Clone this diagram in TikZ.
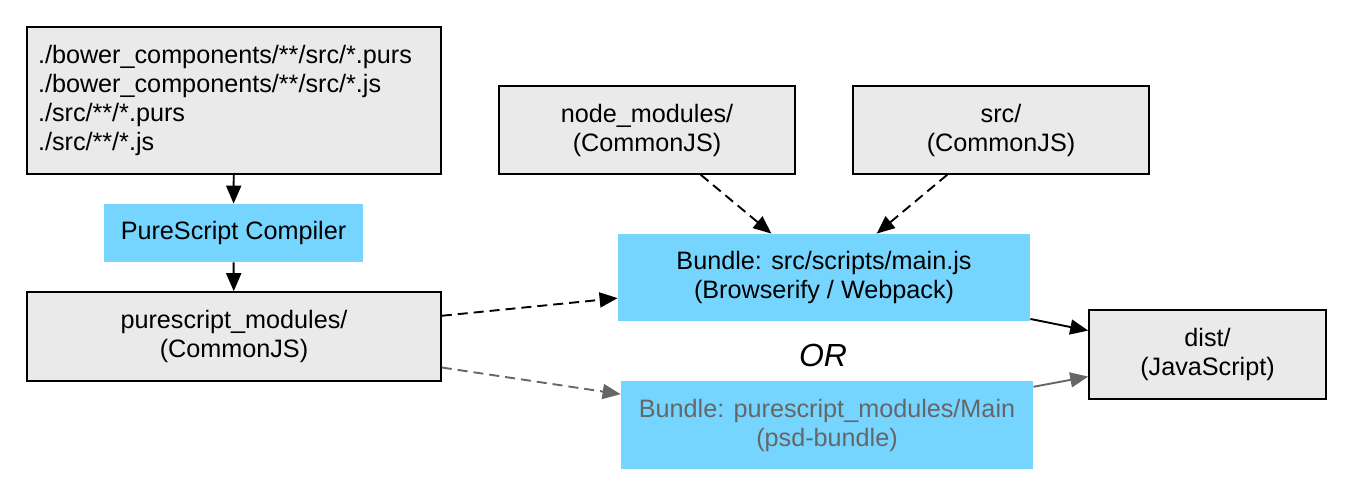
\documentclass[tikz,border=0pt]{standalone}
\usepackage{fontspec}
\setmainfont{Liberation Sans}
\usepackage{tikz}
\usetikzlibrary{arrows.meta}
\definecolor{boxgray}{HTML}{EAEAEA}
\definecolor{toolblue}{HTML}{75D5FF}
\definecolor{altgray}{HTML}{666666}
\tikzset{>/.tip={Triangle[length=9pt,width=7.5pt]}}
\tikzset{
  dir/.style={draw=black, line width=0.8pt, fill=boxgray, align=center, inner sep=0pt},
  tool/.style={fill=toolblue, align=center, inner sep=0pt},
  link/.style={->, line width=0.95pt},
  soft/.style={dash pattern=on 5pt off 3pt},
}
\newcommand{\tsz}{\fontsize{12.6}{14.5}\selectfont}

\begin{document}
\begin{tikzpicture}[x=0.5pt, y=-0.5pt, font=\tsz]
\useasboundingbox (0,0) rectangle (1352,492);
\node[dir, align=left, text width=196pt, inner xsep=5.5pt, minimum height=73.5pt] (globs) at (234,100.5)
  {./bower\_components/**/src/*.purs\\./bower\_components/**/src/*.js\\./src/**/*.purs\\./src/**/*.js};
\node[tool, minimum width=129.5pt, minimum height=29pt] (psc) at (233.5,233) {PureScript Compiler};
\node[dir, minimum width=207pt, minimum height=44.5pt] (psmod) at (234,336.5) {purescript\_modules/\\(CommonJS)};
\node[dir, minimum width=148pt, minimum height=44pt] (nodemod) at (647,130) {node\_modules/\\(CommonJS)};
\node[dir, minimum width=148pt, minimum height=44pt] (src) at (1001,130) {src/\\(CommonJS)};
\node[tool, minimum width=206pt, minimum height=43.5pt] (bundle) at (824,277.5) {Bundle: src/scripts/main.js\\(Browserify / Webpack)};
\node[tool, text=altgray, minimum width=206pt, minimum height=44pt] (psdb) at (827,425) {Bundle: purescript\_modules/Main\\(psd-bundle)};
\node[dir, minimum width=118.5pt, minimum height=44.5pt] (dist) at (1207.5,354.5) {dist/\\(JavaScript)};
\node (or) at (823,355) {\fontsize{16}{18}\selectfont\itshape OR};

\draw[link] (globs) to (psc);
\draw[link] (psc) to (psmod);
\draw[link, soft] (nodemod) to (bundle);
\draw[link, soft] (src) to (bundle);
\draw[link, soft] (psmod) to (bundle);
\draw[link, soft, altgray] (psmod) to (psdb);
\draw[link] (bundle) to (dist);
\draw[link, altgray] (psdb) to (dist);
\end{tikzpicture}
\end{document}
